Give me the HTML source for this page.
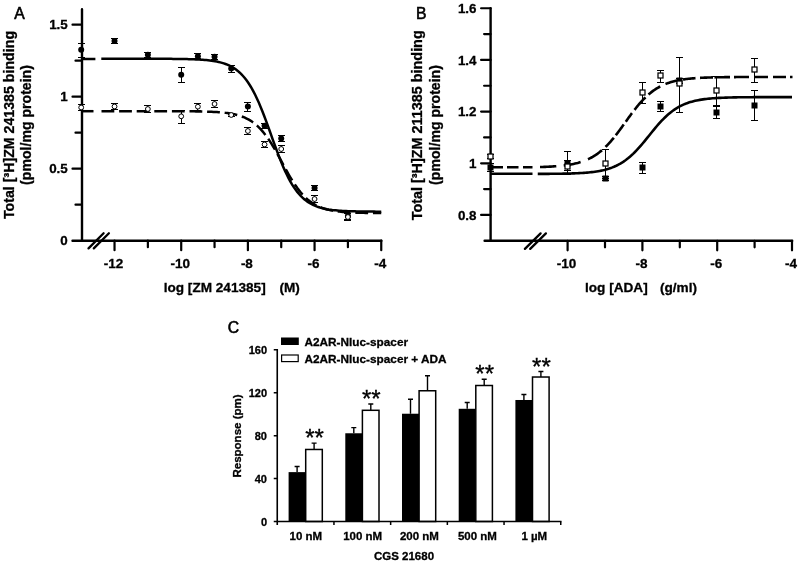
<!DOCTYPE html>
<html><head><meta charset="utf-8"><title>Figure</title>
<style>html,body{margin:0;padding:0;background:#fff}svg{display:block}text[font-weight=bold],g[font-weight=bold] text{stroke:#000;stroke-width:0.3px}</style></head>
<body><svg width="800" height="562" viewBox="0 0 800 562" font-family="'Liberation Sans', Arial, sans-serif" fill="#000">
<rect width="800" height="562" fill="#fff"/>
<g id="panelA">
<path d="M82,9.3 V240.7 M72.5,240.7 H381.4" stroke="#000" stroke-width="2.4" fill="none" stroke-linecap="round"/>
<path d="M75.5,204.7 h6.5 M72.5,168.7 h9.5 M75.5,132.7 h6.5 M72.5,96.7 h9.5 M75.5,60.7 h6.5 M72.5,24.7 h9.5 " stroke="#000" stroke-width="2.2" fill="none" stroke-linecap="round"/>
<path d="M114.53,240.7 v9.5 M147.87,240.7 v6.5 M181.21,240.7 v9.5 M214.55,240.7 v6.5 M247.89,240.7 v9.5 M281.23,240.7 v6.5 M314.57,240.7 v9.5 M347.91,240.7 v6.5 M381.25,240.7 v9.5 " stroke="#000" stroke-width="2.2" fill="none" stroke-linecap="round"/>
<path d="M88.5,248.4 L103.6,233.2 M93.8,248.4 L108.9,233.2" stroke="#000" stroke-width="2.3" fill="none" stroke-linecap="round"/>
<path d="M81,59.1 H95.4 M101.3,58.77 L103.05,58.77 L104.8,58.77 L106.55,58.77 L108.3,58.77 L110.05,58.77 L111.8,58.77 L113.55,58.77 L115.3,58.77 L117.05,58.77 L118.8,58.77 L120.55,58.77 L122.3,58.77 L124.05,58.78 L125.8,58.78 L127.55,58.78 L129.3,58.78 L131.04,58.78 L132.79,58.78 L134.54,58.78 L136.29,58.78 L138.04,58.78 L139.79,58.78 L141.54,58.78 L143.29,58.79 L145.04,58.79 L146.79,58.79 L148.54,58.79 L150.29,58.79 L152.04,58.8 L153.79,58.8 L155.54,58.8 L157.29,58.81 L159.04,58.81 L160.79,58.82 L162.54,58.83 L164.29,58.83 L166.04,58.84 L167.79,58.85 L169.54,58.86 L171.29,58.87 L173.04,58.89 L174.79,58.9 L176.54,58.92 L178.29,58.94 L180.04,58.96 L181.79,58.99 L183.54,59.02 L185.29,59.05 L187.03,59.09 L188.78,59.14 L190.53,59.19 L192.28,59.24 L194.03,59.31 L195.78,59.38 L197.53,59.46 L199.28,59.56 L201.03,59.66 L202.78,59.78 L204.53,59.92 L206.28,60.08 L208.03,60.25 L209.78,60.45 L211.53,60.68 L213.28,60.94 L215.03,61.23 L216.78,61.56 L218.53,61.93 L220.28,62.36 L222.03,62.83 L223.78,63.37 L225.53,63.98 L227.28,64.66 L229.03,65.43 L230.78,66.3 L232.53,67.27 L234.28,68.36 L236.03,69.57 L237.78,70.93 L239.53,72.45 L241.28,74.13 L243.02,75.99 L244.77,78.04 L246.52,80.31 L248.27,82.79 L250.02,85.5 L251.77,88.44 L253.52,91.62 L255.27,95.05 L257.02,98.71 L258.77,102.6 L260.52,106.72 L262.27,111.03 L264.02,115.52 L265.77,120.16 L267.52,124.92 L269.27,129.77 L271.02,134.65 L272.77,139.55 L274.52,144.4 L276.27,149.19 L278.02,153.86 L279.77,158.39 L281.52,162.75 L283.27,166.91 L285.02,170.86 L286.77,174.57 L288.52,178.06 L290.27,181.3 L292.02,184.3 L293.77,187.06 L295.52,189.59 L297.26,191.91 L299.01,194.01 L300.76,195.92 L302.51,197.64 L304.26,199.19 L306.01,200.59 L307.76,201.84 L309.51,202.96 L311.26,203.95 L313.01,204.84 L314.76,205.64 L316.51,206.34 L318.26,206.96 L320.01,207.52 L321.76,208.01 L323.51,208.44 L325.26,208.83 L327.01,209.17 L328.76,209.47 L330.51,209.73 L332.26,209.97 L334.01,210.17 L335.76,210.35 L337.51,210.51 L339.26,210.66 L341.01,210.78 L342.76,210.89 L344.51,210.99 L346.26,211.07 L348.01,211.15 L349.76,211.21 L351.51,211.27 L353.25,211.32 L355,211.37 L356.75,211.41 L358.5,211.44 L360.25,211.47 L362,211.5 L363.75,211.53 L365.5,211.55 L367.25,211.56 L369,211.58 L370.75,211.6 L372.5,211.61 L374.25,211.62 L376,211.63 L377.75,211.64 L379.5,211.64 L381.25,211.65" stroke="#000" stroke-width="2.5" fill="none"/>
<path d="M81,111.2 H93.5" stroke="#000" stroke-width="2.5" fill="none"/>
<path d="M101.5,111.19 L103.25,111.19 L105,111.19 L106.75,111.19 L108.49,111.19 L110.24,111.19 L111.99,111.19 L113.74,111.19 L115.49,111.19 L117.24,111.19 L118.98,111.19 L120.73,111.19 L122.48,111.19 L124.23,111.19 L125.98,111.19 L127.73,111.19 L129.47,111.19 L131.22,111.19 L132.97,111.19 L134.72,111.19 L136.47,111.19 L138.22,111.19 L139.97,111.19 L141.71,111.19 L143.46,111.19 L145.21,111.19 L146.96,111.19 L148.71,111.19 L150.46,111.2 L152.2,111.2 L153.95,111.2 L155.7,111.2 L157.45,111.2 L159.2,111.2 L160.95,111.2 L162.7,111.21 L164.44,111.21 L166.19,111.21 L167.94,111.21 L169.69,111.22 L171.44,111.22 L173.19,111.23 L174.93,111.23 L176.68,111.24 L178.43,111.24 L180.18,111.25 L181.93,111.26 L183.68,111.27 L185.43,111.28 L187.17,111.29 L188.92,111.31 L190.67,111.32 L192.42,111.34 L194.17,111.36 L195.92,111.39 L197.66,111.41 L199.41,111.44 L201.16,111.48 L202.91,111.52 L204.66,111.56 L206.41,111.61 L208.15,111.67 L209.9,111.74 L211.65,111.81 L213.4,111.89 L215.15,111.99 L216.9,112.09 L218.65,112.22 L220.39,112.35 L222.14,112.51 L223.89,112.68 L225.64,112.88 L227.39,113.11 L229.14,113.36 L230.88,113.65 L232.63,113.97 L234.38,114.34 L236.13,114.75 L237.88,115.21 L239.63,115.73 L241.38,116.31 L243.12,116.97 L244.87,117.7 L246.62,118.52 L248.37,119.43 L250.12,120.44 L251.87,121.56 L253.61,122.81 L255.36,124.18 L257.11,125.68 L258.86,127.33 L260.61,129.13 L262.36,131.08 L264.1,133.19 L265.85,135.46 L267.6,137.88 L269.35,140.45 L271.1,143.17 L272.85,146.01 L274.6,148.98 L276.34,152.04 L278.09,155.18 L279.84,158.37 L281.59,161.6 L283.34,164.82 L285.09,168.03 L286.83,171.19 L288.58,174.29 L290.33,177.29 L292.08,180.17 L293.83,182.94 L295.58,185.56 L297.32,188.04 L299.07,190.36 L300.82,192.52 L302.57,194.53 L304.32,196.38 L306.07,198.08 L307.82,199.64 L309.56,201.05 L311.31,202.34 L313.06,203.51 L314.81,204.56 L316.56,205.5 L318.31,206.35 L320.05,207.11 L321.8,207.79 L323.55,208.4 L325.3,208.94 L327.05,209.42 L328.8,209.85 L330.55,210.23 L332.29,210.57 L334.04,210.87 L335.79,211.13 L337.54,211.37 L339.29,211.58 L341.04,211.76 L342.78,211.92 L344.53,212.07 L346.28,212.19 L348.03,212.3 L349.78,212.4 L351.53,212.49 L353.28,212.57 L355.02,212.64 L356.77,212.69 L358.52,212.75 L360.27,212.79 L362.02,212.84 L363.77,212.87 L365.51,212.9 L367.26,212.93 L369.01,212.96 L370.76,212.98 L372.51,213 L374.26,213.01 L376,213.03 L377.75,213.04 L379.5,213.05 L381.25,213.06" stroke="#000" stroke-width="2.5" fill="none" stroke-dasharray="12.8 4.8"/>
<path d="M81.5,43.5 V57.5 M78,43.5 h7 M78,57.5 h7" stroke="#000" stroke-width="1" fill="none"/>
<circle cx="81.19" cy="49.7" r="3" fill="#000"/>
<path d="M114.5,38.5 V43.5 M111,38.5 h7 M111,43.5 h7" stroke="#000" stroke-width="1" fill="none"/>
<circle cx="114.53" cy="41" r="3" fill="#000"/>
<path d="M147.5,52.5 V57.5 M144,52.5 h7 M144,57.5 h7" stroke="#000" stroke-width="1" fill="none"/>
<circle cx="147.87" cy="54.8" r="3" fill="#000"/>
<path d="M181.5,67.5 V82.5 M178,67.5 h7 M178,82.5 h7" stroke="#000" stroke-width="1" fill="none"/>
<circle cx="181.21" cy="74.8" r="3" fill="#000"/>
<path d="M197.5,53.5 V58.5 M194,53.5 h7 M194,58.5 h7" stroke="#000" stroke-width="1" fill="none"/>
<circle cx="197.88" cy="56.2" r="3" fill="#000"/>
<path d="M214.5,54.5 V59.5 M211,54.5 h7 M211,59.5 h7" stroke="#000" stroke-width="1" fill="none"/>
<circle cx="214.55" cy="56.8" r="3" fill="#000"/>
<path d="M231.5,65.5 V72.5 M228,65.5 h7 M228,72.5 h7" stroke="#000" stroke-width="1" fill="none"/>
<circle cx="231.22" cy="68.5" r="3" fill="#000"/>
<path d="M247.5,102.5 V111.5 M244,102.5 h7 M244,111.5 h7" stroke="#000" stroke-width="1" fill="none"/>
<circle cx="247.89" cy="106.5" r="3" fill="#000"/>
<path d="M264.5,123.5 V128.5 M261,123.5 h7 M261,128.5 h7" stroke="#000" stroke-width="1" fill="none"/>
<circle cx="264.56" cy="125.7" r="3" fill="#000"/>
<path d="M281.5,135.5 V141.5 M278,135.5 h7 M278,141.5 h7" stroke="#000" stroke-width="1" fill="none"/>
<circle cx="281.23" cy="138.5" r="3" fill="#000"/>
<path d="M314.5,185.5 V190.5 M311,185.5 h7 M311,190.5 h7" stroke="#000" stroke-width="1" fill="none"/>
<circle cx="314.57" cy="188" r="3" fill="#000"/>
<path d="M347.5,213.5 V219.5 M344,213.5 h7 M344,219.5 h7" stroke="#000" stroke-width="1" fill="none"/>
<circle cx="347.91" cy="216" r="3" fill="#000"/>
<path d="M81.5,104.5 V110.5 M78,104.5 h7 M78,110.5 h7" stroke="#000" stroke-width="1" fill="none"/>
<circle cx="81.19" cy="107.5" r="2.4" fill="#fff" stroke="#000" stroke-width="1"/>
<path d="M114.5,103.5 V109.5 M111,103.5 h7 M111,109.5 h7" stroke="#000" stroke-width="1" fill="none"/>
<circle cx="114.53" cy="106.5" r="2.4" fill="#fff" stroke="#000" stroke-width="1"/>
<path d="M147.5,105.5 V112.5 M144,105.5 h7 M144,112.5 h7" stroke="#000" stroke-width="1" fill="none"/>
<circle cx="147.87" cy="109" r="2.4" fill="#fff" stroke="#000" stroke-width="1"/>
<path d="M181.5,110.5 V123.5 M178,110.5 h7 M178,123.5 h7" stroke="#000" stroke-width="1" fill="none"/>
<circle cx="181.21" cy="116.3" r="2.4" fill="#fff" stroke="#000" stroke-width="1"/>
<path d="M197.5,103.5 V110.5 M194,103.5 h7 M194,110.5 h7" stroke="#000" stroke-width="1" fill="none"/>
<circle cx="197.88" cy="106.7" r="2.4" fill="#fff" stroke="#000" stroke-width="1"/>
<path d="M214.5,100.5 V107.5 M211,100.5 h7 M211,107.5 h7" stroke="#000" stroke-width="1" fill="none"/>
<circle cx="214.55" cy="104" r="2.4" fill="#fff" stroke="#000" stroke-width="1"/>
<path d="M231.5,114.5 V116.5 M228,114.5 h7 M228,116.5 h7" stroke="#000" stroke-width="1" fill="none"/>
<circle cx="231.22" cy="115" r="2.4" fill="#fff" stroke="#000" stroke-width="1"/>
<path d="M247.5,127.5 V134.5 M244,127.5 h7 M244,134.5 h7" stroke="#000" stroke-width="1" fill="none"/>
<circle cx="247.89" cy="131" r="2.4" fill="#fff" stroke="#000" stroke-width="1"/>
<path d="M264.5,141.5 V147.5 M261,141.5 h7 M261,147.5 h7" stroke="#000" stroke-width="1" fill="none"/>
<circle cx="264.56" cy="144.5" r="2.4" fill="#fff" stroke="#000" stroke-width="1"/>
<path d="M281.5,145.5 V152.5 M278,145.5 h7 M278,152.5 h7" stroke="#000" stroke-width="1" fill="none"/>
<circle cx="281.23" cy="149" r="2.4" fill="#fff" stroke="#000" stroke-width="1"/>
<path d="M314.5,195.5 V202.5 M311,195.5 h7 M311,202.5 h7" stroke="#000" stroke-width="1" fill="none"/>
<circle cx="314.57" cy="199" r="2.4" fill="#fff" stroke="#000" stroke-width="1"/>
<path d="M347.5,213.5 V220.5 M344,213.5 h7 M344,220.5 h7" stroke="#000" stroke-width="1" fill="none"/>
<circle cx="347.91" cy="217" r="2.4" fill="#fff" stroke="#000" stroke-width="1"/>
<g font-size="13.4" font-weight="bold" text-anchor="end">
<text x="67.8" y="245.1">0</text>
<text x="67.8" y="173.1">0.5</text>
<text x="67.8" y="101.1">1</text>
<text x="67.8" y="29.1">1.5</text>
</g>
<g font-size="13.5" font-weight="bold" text-anchor="middle">
<text x="113.53" y="267.5">-12</text>
<text x="180.21" y="267.5">-10</text>
<text x="246.89" y="267.5">-8</text>
<text x="313.57" y="267.5">-6</text>
<text x="380.25" y="267.5">-4</text>
</g>
<text x="163.7" y="292.3" font-size="13.6" font-weight="bold">log [ZM 241385]</text>
<text x="279.5" y="292.3" font-size="13.6" font-weight="bold">(M)</text>
<text transform="translate(13.7,125) rotate(-90)" font-size="14.2" font-weight="bold" text-anchor="middle">Total [³H]ZM 241385 binding</text>
<text transform="translate(31,125) rotate(-90)" font-size="14.1" font-weight="bold" text-anchor="middle">(pmol/mg protein)</text>
<text x="14.3" y="19" font-size="15.7" stroke="#000" stroke-width="0.6">A</text>
</g>
<g id="panelB">
<path d="M490.6,8.2 V240.8 M484.6,240.8 H792.2" stroke="#000" stroke-width="2.4" fill="none" stroke-linecap="round"/>
<path d="M481.1,214.96 h9.5 M484.1,189.12 h6.5 M481.1,163.28 h9.5 M484.1,137.44 h6.5 M481.1,111.6 h9.5 M484.1,85.76 h6.5 M481.1,59.92 h9.5 M484.1,34.08 h6.5 M481.1,8.24 h9.5 " stroke="#000" stroke-width="2.2" fill="none" stroke-linecap="round"/>
<path d="M567.6,240.8 v9.5 M605,240.8 v6.5 M642.4,240.8 v9.5 M679.8,240.8 v6.5 M717.2,240.8 v9.5 M754.6,240.8 v6.5 M792,240.8 v9.5 " stroke="#000" stroke-width="2.2" fill="none" stroke-linecap="round"/>
<path d="M524.9,248.9 L540.6,233.4 M530.2,248.9 L545.9,233.4" stroke="#000" stroke-width="2.3" fill="none" stroke-linecap="round"/>
<path d="M490,173.75 H532.5 M537.75,173.89 L539.34,173.89 L540.93,173.88 L542.52,173.87 L544.11,173.87 L545.7,173.86 L547.28,173.85 L548.87,173.83 L550.46,173.82 L552.05,173.81 L553.64,173.79 L555.23,173.77 L556.82,173.76 L558.41,173.73 L560,173.71 L561.59,173.68 L563.17,173.66 L564.76,173.62 L566.35,173.59 L567.94,173.55 L569.53,173.51 L571.12,173.46 L572.71,173.41 L574.3,173.35 L575.89,173.28 L577.48,173.21 L579.07,173.13 L580.65,173.04 L582.24,172.95 L583.83,172.84 L585.42,172.72 L587.01,172.59 L588.6,172.45 L590.19,172.29 L591.78,172.11 L593.37,171.92 L594.96,171.7 L596.55,171.47 L598.13,171.21 L599.72,170.92 L601.31,170.61 L602.9,170.27 L604.49,169.89 L606.08,169.47 L607.67,169.02 L609.26,168.53 L610.85,167.98 L612.44,167.39 L614.03,166.75 L615.61,166.05 L617.2,165.29 L618.79,164.47 L620.38,163.58 L621.97,162.63 L623.56,161.6 L625.15,160.5 L626.74,159.32 L628.33,158.06 L629.92,156.73 L631.5,155.32 L633.09,153.83 L634.68,152.27 L636.27,150.63 L637.86,148.93 L639.45,147.17 L641.04,145.35 L642.63,143.48 L644.22,141.57 L645.81,139.63 L647.4,137.67 L648.98,135.7 L650.57,133.73 L652.16,131.76 L653.75,129.82 L655.34,127.9 L656.93,126.03 L658.52,124.2 L660.11,122.42 L661.7,120.71 L663.29,119.06 L664.88,117.49 L666.46,115.98 L668.05,114.56 L669.64,113.21 L671.23,111.94 L672.82,110.75 L674.41,109.63 L676,108.59 L677.59,107.62 L679.18,106.72 L680.77,105.88 L682.35,105.12 L683.94,104.41 L685.53,103.75 L687.12,103.15 L688.71,102.6 L690.3,102.1 L691.89,101.64 L693.48,101.22 L695.07,100.83 L696.66,100.48 L698.25,100.16 L699.83,99.87 L701.42,99.61 L703.01,99.37 L704.6,99.15 L706.19,98.95 L707.78,98.77 L709.37,98.61 L710.96,98.47 L712.55,98.33 L714.14,98.21 L715.73,98.1 L717.31,98 L718.9,97.91 L720.49,97.83 L722.08,97.76 L723.67,97.69 L725.26,97.63 L726.85,97.58 L728.44,97.53 L730.03,97.49 L731.62,97.45 L733.2,97.41 L734.79,97.38 L736.38,97.35 L737.97,97.32 L739.56,97.3 L741.15,97.28 L742.74,97.26 L744.33,97.24 L745.92,97.23 L747.51,97.21 L749.1,97.2 L750.68,97.19 L752.27,97.18 L753.86,97.17 L755.45,97.16 L757.04,97.15 L758.63,97.14 L760.22,97.14 L761.81,97.13 L763.4,97.13 L764.99,97.12 L766.58,97.12 L768.16,97.11 L769.75,97.11 L771.34,97.11 L772.93,97.1 L774.52,97.1 L776.11,97.1 L777.7,97.1 L779.29,97.09 L780.88,97.09 L782.47,97.09 L784.05,97.09 L785.64,97.09 L787.23,97.09 L788.82,97.09 L790.41,97.09 L792,97.09" stroke="#000" stroke-width="2.6" fill="none"/>
<path d="M491,167.3 H503 M507,167.3 H518.5 M523,167.3 H532.5" stroke="#000" stroke-width="2.6" fill="none"/>
<path d="M540,167.02 L541.36,166.98 L542.72,166.94 L544.08,166.89 L545.43,166.84 L546.79,166.78 L548.15,166.72 L549.51,166.65 L550.87,166.58 L552.22,166.5 L553.58,166.42 L554.94,166.32 L556.3,166.22 M563.7,165.51 L565.11,165.33 L566.52,165.14 L567.93,164.93 L569.33,164.71 L570.74,164.47 L572.15,164.2 L573.56,163.91 L574.97,163.6 L576.38,163.27 L577.78,162.91 L579.19,162.51 L580.6,162.09 M588,159.26 L589.17,158.7 L590.33,158.11 L591.5,157.49 L592.67,156.84 L593.83,156.14 L595,155.41 L596.17,154.64 L597.33,153.83 L598.5,152.97 L599.67,152.07 L600.83,151.13 L602,150.15 M605.5,146.93 L606.19,146.24 L606.88,145.54 L607.57,144.82 L608.27,144.09 L608.96,143.35 L609.65,142.59 L610.34,141.81 L611.03,141.02 L611.73,140.21 L612.42,139.4 L613.11,138.56 L613.8,137.72 M615.8,135.21 L616.47,134.35 L617.13,133.49 L617.8,132.61 L618.47,131.73 L619.13,130.83 L619.8,129.94 L620.47,129.03 L621.13,128.12 L621.8,127.2 L622.47,126.29 L623.13,125.36 L623.8,124.44 M625.8,121.65 L626.32,120.93 L626.83,120.21 L627.35,119.5 L627.87,118.78 L628.38,118.06 L628.9,117.35 L629.42,116.64 L629.93,115.93 L630.45,115.23 L630.97,114.53 L631.48,113.83 L632,113.14 M634.5,109.85 L635.42,108.68 L636.33,107.53 L637.25,106.4 L638.17,105.29 L639.08,104.2 L640,103.14 L640.92,102.1 L641.83,101.09 L642.75,100.11 L643.67,99.15 L644.58,98.22 L645.5,97.31 M648.5,94.55 L649.48,93.71 L650.45,92.91 L651.42,92.14 L652.4,91.4 L653.38,90.68 L654.35,90 L655.33,89.34 L656.3,88.72 L657.28,88.12 L658.25,87.54 L659.23,87 L660.2,86.47 M665.5,84.03 L666.46,83.66 L667.42,83.3 L668.38,82.97 L669.33,82.64 L670.29,82.34 L671.25,82.05 L672.21,81.77 L673.17,81.51 L674.12,81.26 L675.08,81.03 L676.04,80.81 L677,80.6 M683,79.51 L684.04,79.36 L685.08,79.21 L686.12,79.08 L687.17,78.95 L688.21,78.83 L689.25,78.71 L690.29,78.61 L691.33,78.51 L692.38,78.41 L693.42,78.33 L694.46,78.24 L695.5,78.17 M700,77.88 L701.08,77.82 L702.17,77.77 L703.25,77.72 L704.33,77.67 L705.42,77.63 L706.5,77.58 L707.58,77.54 L708.67,77.51 L709.75,77.47 L710.83,77.44 L711.92,77.41 L713,77.38 M714.5,77.35 L715.79,77.32 L717.08,77.29 L718.38,77.27 L719.67,77.25 L720.96,77.23 L722.25,77.21 L723.54,77.19 L724.83,77.17 L726.12,77.16 L727.42,77.14 L728.71,77.13 L730,77.12 M734,77.09 L735.25,77.08 L736.5,77.07 L737.75,77.06 L739,77.06 L740.25,77.05 L741.5,77.05 L742.75,77.04 L744,77.04 L745.25,77.03 L746.5,77.03 L747.75,77.02 L749,77.02 M755,77.01 L756.08,77 L757.17,77 L758.25,77 L759.33,77 L760.42,77 L761.5,77 L762.58,76.99 L763.67,76.99 L764.75,76.99 L765.83,76.99 L766.92,76.99 L768,76.99 M773,76.98 L774.08,76.98 L775.17,76.98 L776.25,76.98 L777.33,76.98 L778.42,76.98 L779.5,76.98 L780.58,76.98 L781.67,76.98 L782.75,76.98 L783.83,76.98 L784.92,76.98 L786,76.98 M790,76.98 L790.21,76.98 L790.42,76.98 L790.62,76.98 L790.83,76.98 L791.04,76.98 L791.25,76.98 L791.46,76.98 L791.67,76.98 L791.88,76.98 L792.08,76.98 L792.29,76.98 L792.5,76.98" stroke="#000" stroke-width="2.6" fill="none"/>
<path d="M490.5,163.5 V171.5 M487,163.5 h7 M487,171.5 h7" stroke="#000" stroke-width="1" fill="none"/>
<rect x="487.5" y="164.5" width="6" height="6" fill="#000"/>
<path d="M567.5,160.5 V174.5 M564,160.5 h7 M564,174.5 h7" stroke="#000" stroke-width="1" fill="none"/>
<rect x="564.5" y="160.5" width="6" height="6" fill="#000"/>
<path d="M605.5,176.5 V180.5 M602,176.5 h7 M602,180.5 h7" stroke="#000" stroke-width="1" fill="none"/>
<rect x="602.5" y="175.5" width="6" height="6" fill="#000"/>
<path d="M642.5,162.5 V173.5 M639,162.5 h7 M639,173.5 h7" stroke="#000" stroke-width="1" fill="none"/>
<rect x="639.5" y="164.5" width="6" height="6" fill="#000"/>
<path d="M660.5,101.5 V111.5 M657,101.5 h7 M657,111.5 h7" stroke="#000" stroke-width="1" fill="none"/>
<rect x="657.5" y="103.5" width="6" height="6" fill="#000"/>
<path d="M679.5,78.5 V83.5 M676,78.5 h7 M676,83.5 h7" stroke="#000" stroke-width="1" fill="none"/>
<rect x="676.5" y="77.5" width="6" height="6" fill="#000"/>
<path d="M716.5,106.5 V118.5 M713,106.5 h7 M713,118.5 h7" stroke="#000" stroke-width="1" fill="none"/>
<rect x="713.5" y="109.5" width="6" height="6" fill="#000"/>
<path d="M754.5,90.5 V120.5 M751,90.5 h7 M751,120.5 h7" stroke="#000" stroke-width="1" fill="none"/>
<rect x="751.5" y="102.5" width="6" height="6" fill="#000"/>
<path d="M490.5,154.5 V158.5 M487,154.5 h7 M487,158.5 h7" stroke="#000" stroke-width="1" fill="none"/>
<rect x="488" y="154" width="5" height="5" fill="#fff" stroke="#000" stroke-width="1.25"/>
<path d="M567.5,151.5 V170.5 M564,151.5 h7 M564,170.5 h7" stroke="#000" stroke-width="1" fill="none"/>
<rect x="565" y="164" width="5" height="5" fill="#fff" stroke="#000" stroke-width="1.25"/>
<path d="M605.5,149.5 V178.5 M602,149.5 h7 M602,178.5 h7" stroke="#000" stroke-width="1" fill="none"/>
<rect x="603" y="161" width="5" height="5" fill="#fff" stroke="#000" stroke-width="1.25"/>
<path d="M642.5,82.5 V103.5 M639,82.5 h7 M639,103.5 h7" stroke="#000" stroke-width="1" fill="none"/>
<rect x="640" y="90" width="5" height="5" fill="#fff" stroke="#000" stroke-width="1.25"/>
<path d="M660.5,70.5 V82.5 M657,70.5 h7 M657,82.5 h7" stroke="#000" stroke-width="1" fill="none"/>
<rect x="658" y="73" width="5" height="5" fill="#fff" stroke="#000" stroke-width="1.25"/>
<path d="M679.5,57.5 V112.5 M676,57.5 h7 M676,112.5 h7" stroke="#000" stroke-width="1" fill="none"/>
<rect x="677" y="81" width="5" height="5" fill="#fff" stroke="#000" stroke-width="1.25"/>
<path d="M716.5,76.5 V105.5 M713,76.5 h7 M713,105.5 h7" stroke="#000" stroke-width="1" fill="none"/>
<rect x="714" y="88" width="5" height="5" fill="#fff" stroke="#000" stroke-width="1.25"/>
<path d="M754.5,58.5 V82.5 M751,58.5 h7 M751,82.5 h7" stroke="#000" stroke-width="1" fill="none"/>
<rect x="752" y="67" width="5" height="5" fill="#fff" stroke="#000" stroke-width="1.25"/>
<g font-size="13.4" font-weight="bold" text-anchor="end">
<text x="476.5" y="219.56">0.8</text>
<text x="476.5" y="167.88">1</text>
<text x="476.5" y="116.2">1.2</text>
<text x="476.5" y="64.52">1.4</text>
<text x="476.5" y="12.84">1.6</text>
</g>
<g font-size="13.5" font-weight="bold" text-anchor="middle">
<text x="566.6" y="267.5">-10</text>
<text x="641.4" y="267.5">-8</text>
<text x="716.2" y="267.5">-6</text>
<text x="791" y="267.5">-4</text>
</g>
<text x="585" y="292.3" font-size="13.6" font-weight="bold">log [ADA]</text>
<text x="660" y="292.3" font-size="13.6" font-weight="bold">(g/ml)</text>
<text transform="translate(422.2,125.3) rotate(-90)" font-size="14.4" font-weight="bold" text-anchor="middle">Total [³H]ZM 211385 binding</text>
<text transform="translate(439.5,125) rotate(-90)" font-size="14.1" font-weight="bold" text-anchor="middle">(pmol/mg protein)</text>
<text x="416" y="19" font-size="15.7" stroke="#000" stroke-width="0.6">B</text>
</g>
<g id="panelC">
<path d="M297.1,472.12 V466.54 M294.6,466.54 h5" stroke="#000" stroke-width="1.4" fill="none"/>
<path d="M314.1,449.47 V443.14 M311.6,443.14 h5" stroke="#000" stroke-width="1.4" fill="none"/>
<rect x="288.6" y="472.12" width="17" height="49.38" fill="#000"/>
<rect x="305.7" y="449.47" width="16.6" height="72.03" fill="#fff" stroke="#000" stroke-width="1.5"/>
<path d="M353.8,433.27 V427.58 M351.3,427.58 h5" stroke="#000" stroke-width="1.4" fill="none"/>
<path d="M370.8,410.3 V404.07 M368.3,404.07 h5" stroke="#000" stroke-width="1.4" fill="none"/>
<rect x="345.3" y="433.27" width="17" height="88.23" fill="#000"/>
<rect x="362.4" y="410.3" width="16.6" height="111.2" fill="#fff" stroke="#000" stroke-width="1.5"/>
<path d="M410.5,413.73 V399.24 M408,399.24 h5" stroke="#000" stroke-width="1.4" fill="none"/>
<path d="M427.5,390.76 V375.73 M425,375.73 h5" stroke="#000" stroke-width="1.4" fill="none"/>
<rect x="402" y="413.73" width="17" height="107.77" fill="#000"/>
<rect x="419.1" y="390.76" width="16.6" height="130.74" fill="#fff" stroke="#000" stroke-width="1.5"/>
<path d="M467.2,408.79 V402.57 M464.7,402.57 h5" stroke="#000" stroke-width="1.4" fill="none"/>
<path d="M484.2,385.5 V379.27 M481.7,379.27 h5" stroke="#000" stroke-width="1.4" fill="none"/>
<rect x="458.7" y="408.79" width="17" height="112.71" fill="#000"/>
<rect x="475.8" y="385.5" width="16.6" height="136" fill="#fff" stroke="#000" stroke-width="1.5"/>
<path d="M523.9,399.99 V394.52 M521.4,394.52 h5" stroke="#000" stroke-width="1.4" fill="none"/>
<path d="M540.9,377.02 V371.44 M538.4,371.44 h5" stroke="#000" stroke-width="1.4" fill="none"/>
<rect x="515.4" y="399.99" width="17" height="121.51" fill="#000"/>
<rect x="532.5" y="377.02" width="16.6" height="144.48" fill="#fff" stroke="#000" stroke-width="1.5"/>
<path d="M277.25,349 V525 M273.75,521.5 H561.5" stroke="#000" stroke-width="1.6" fill="none"/>
<path d="M273.75,478.56 h3.5 M273.75,435.63 h3.5 M273.75,392.69 h3.5 M273.75,349.76 h3.5 M333.95,521.5 v3.5 M390.65,521.5 v3.5 M447.35,521.5 v3.5 M504.05,521.5 v3.5 M560.75,521.5 v3.5 " stroke="#000" stroke-width="1.5" fill="none"/>
<g font-size="11" font-weight="bold" text-anchor="end">
<text x="267" y="525.5">0</text>
<text x="267" y="482.56">40</text>
<text x="267" y="439.63">80</text>
<text x="267" y="396.69">120</text>
<text x="267" y="353.76">160</text>
</g>
<g font-size="11.5" font-weight="bold" text-anchor="middle">
<text x="305.8" y="540.3">10 nM</text>
<text x="362.7" y="540.3">100 nM</text>
<text x="419.4" y="540.3">200 nM</text>
<text x="477.4" y="540.3">500 nM</text>
<text x="534.3" y="540.3">1 µM</text>
<text x="404" y="559.5">CGS 21680</text>
<text transform="translate(241,436) rotate(-90)">Response (pm)</text>
</g>
<rect x="281" y="337.5" width="17.8" height="7.5" fill="#000"/>
<rect x="281.6" y="355" width="16.6" height="6.6" fill="#fff" stroke="#000" stroke-width="1.2"/>
<text x="304.5" y="345.5" font-size="11.8" font-weight="bold">A2AR-Nluc-spacer</text>
<text x="304.5" y="362.5" font-size="11.8" font-weight="bold">A2AR-Nluc-spacer + ADA</text>
<g font-size="24" text-anchor="middle" stroke="#000" stroke-width="0.35">
<text x="314.6" y="446.34">**</text>
<text x="371.3" y="407.27">**</text>
<text x="484.7" y="381.67">**</text>
<text x="541.4" y="374.84">**</text>
</g>
<text x="227.8" y="332.8" font-size="15.7" stroke="#000" stroke-width="0.6">C</text>
</g>
</svg></body></html>
